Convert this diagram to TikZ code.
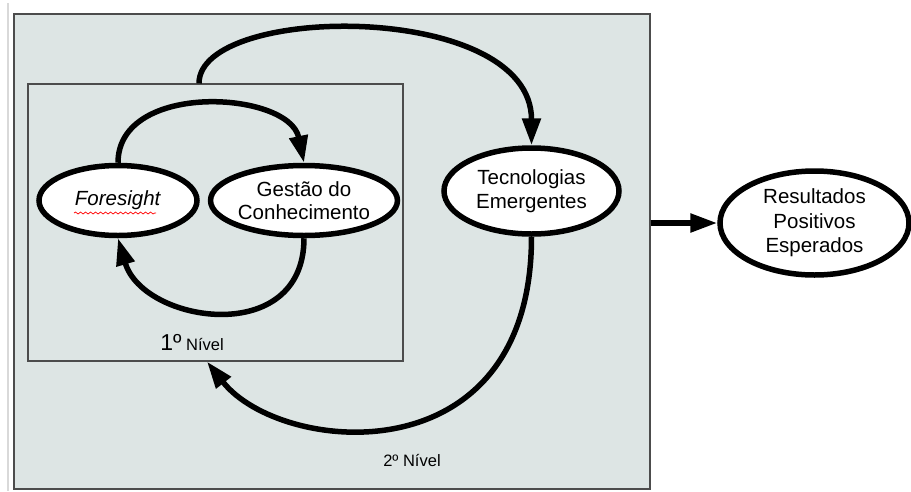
\documentclass[tikz,border=0pt]{standalone}
\usepackage{fontspec}
\setmainfont{Liberation Sans}
\usetikzlibrary{shapes.geometric,arrows.meta,decorations.pathmorphing}
\definecolor{levelgray}{RGB}{221,229,228}
\tikzset{
  state/.style={ellipse, draw, line width=5.5pt, fill=white, inner sep=0pt, align=center, font=\fontsize{20.5}{23.5}\selectfont},
  level/.style={draw=black!70, line width=1.2pt, fill=levelgray, inner sep=0pt},
  flow/.style={line width=5.5pt, -{Triangle[length=27pt,width=18pt]}}
}
\begin{document}
\begin{tikzpicture}[x=1pt,y=-1pt]
\useasboundingbox (0,0) rectangle (911,491);
\draw[black!15, line width=1.5pt] (8,3) -- (8,491);

\node[level, minimum width=636pt, minimum height=475pt] at (332,251.5) (nivel2) {};
\node[level, minimum width=375pt, minimum height=277pt] at (215.5,222.5) (nivel1) {};

\node[state, minimum width=158pt, minimum height=70pt] at (118,200.5) (foresight) {\textit{Foresight}};
\node[state, minimum width=174pt, minimum height=70pt] at (304,200.5) (gestao) {Gestão do\\Conhecimento};
\node[state, minimum width=175pt, minimum height=86pt] at (531.5,191) (tecno) {Tecnologias\\Emergentes};
\node[state, minimum width=189pt, minimum height=104pt] at (814.5,223) (result) {Resultados\\[1pt]Positivos\\[1pt]Esperados};

\node at (192,343) (label1) {{\fontsize{23}{23}\selectfont 1º}{\fontsize{16.5}{18}\selectfont\ Nível}};
\node at (412,460) (label2) {\fontsize{16.5}{18}\selectfont 2º Nível};

\draw[red, line width=0.7pt, decorate, decoration={snake, amplitude=1pt, segment length=5pt}]
  ([shift={(-44,12.5)}]foresight.center) -- ([shift={(38,12.5)}]foresight.center);

\draw[flow] (foresight.north) .. controls +(0,-82) and +(-15,-72) .. (gestao.north);
\draw[flow] (gestao.south) .. controls +(0,110) and +(25,85) .. (foresight.south);
\draw[flow] ([xshift=-16.5pt]nivel1.north) .. controls +(0,-80) and +(0,-145) .. (tecno.north);
\draw[flow] (tecno.south) .. controls +(0,243) and +(73,93) .. ([xshift=-8.5pt]nivel1.south);
\draw[flow] (nivel2.east |- result.west) -- (result.west);

\end{tikzpicture}
\end{document}
